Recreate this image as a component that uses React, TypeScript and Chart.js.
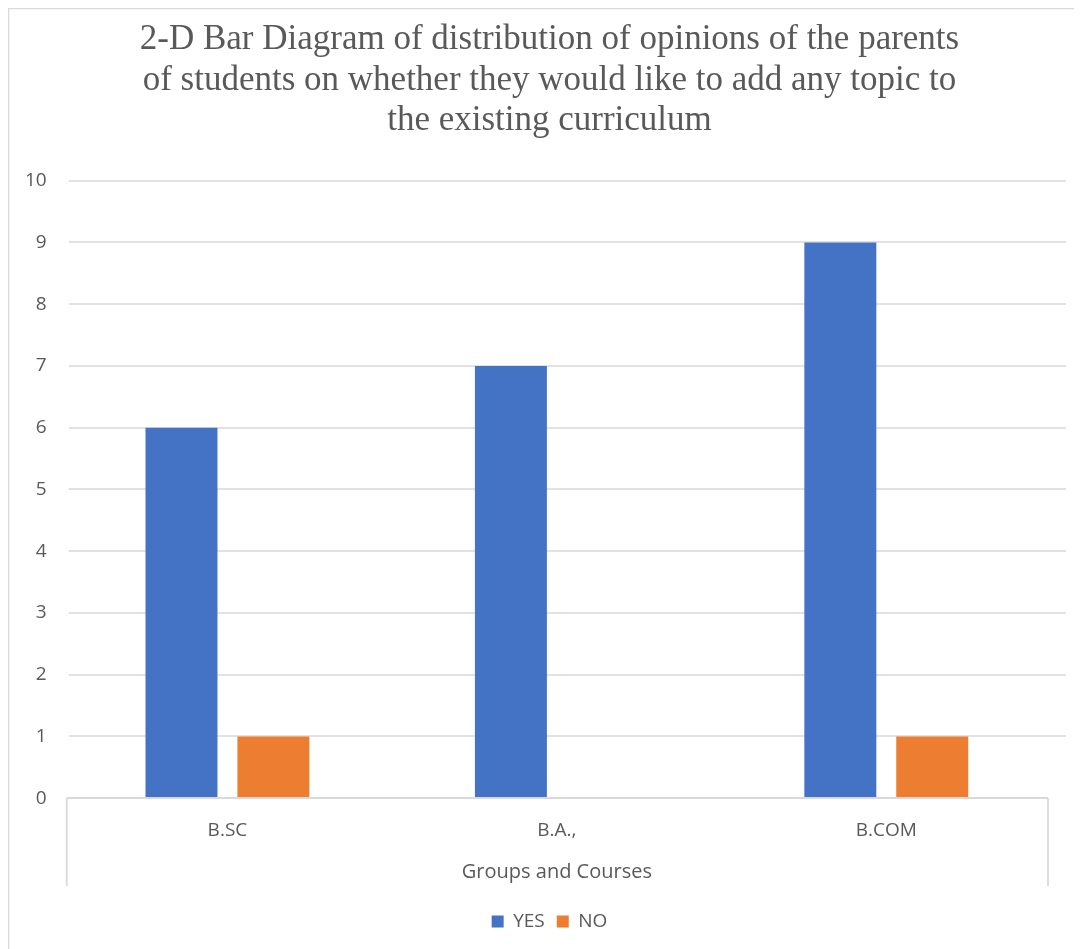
import React, { useEffect, useRef } from "react";
import { Chart, registerables } from "chart.js";

Chart.register(...registerables);

const categories = ["B.SC", "B.A.,", "B.COM"];
const yesValues = [6, 7, 9];
const noValues = [1, 0, 1];
const titleLines = [
  "2-D Bar Diagram of distribution of opinions of the parents",
  "of students on whether they would like to add any topic to",
  "the existing curriculum",
];
const xAxisTitle = "Groups and Courses";
const seriesNames = ["YES", "NO"];

const TEXT = "#595959";
const LINE = "#d9d9d9";
const SANS = "'Open Sans', 'Noto Sans', sans-serif";

export default function App() {
  const ref = useRef<HTMLCanvasElement | null>(null);

  useEffect(() => {
    if (!ref.current) return;
    const framePlugin = {
      id: "excelFrame",
      beforeDatasetsDraw(chart: any) {
        const ctx = chart.ctx;
        const area = chart.chartArea;
        const y = chart.scales.y;
        ctx.save();
        ctx.strokeStyle = LINE;
        ctx.lineWidth = 1.6;
        y.ticks.forEach((t: any) => {
          if (t.value === 0) return;
          const py = Math.round(y.getPixelForValue(t.value));
          ctx.beginPath();
          ctx.moveTo(area.left + 6, py);
          ctx.lineTo(area.right + 15, py);
          ctx.stroke();
        });
        ctx.restore();
      },
      afterDatasetsDraw(chart: any) {
        const ctx = chart.ctx;
        const area = chart.chartArea;
        const y = chart.scales.y;
        const base = Math.round(y.getPixelForValue(0));
        ctx.save();
        ctx.strokeStyle = LINE;
        ctx.lineWidth = 1.8;
        ctx.beginPath();
        ctx.moveTo(area.left + 4, base);
        ctx.lineTo(area.right - 3, base);
        ctx.moveTo(area.left + 4, base);
        ctx.lineTo(area.left + 4, base + 88);
        ctx.moveTo(area.right - 3, base);
        ctx.lineTo(area.right - 3, base + 88);
        ctx.stroke();
        ctx.lineWidth = 1.5;
        ctx.beginPath();
        ctx.moveTo(0.5, chart.height);
        ctx.lineTo(0.5, 0.5);
        ctx.lineTo(chart.width, 0.5);
        ctx.stroke();
        ctx.restore();
      },
    };

    const chart = new Chart(ref.current, {
      type: "bar",
      data: {
        labels: categories,
        datasets: [
          {
            label: seriesNames[0],
            data: yesValues,
            backgroundColor: "#4472C4",
            categoryPercentage: 0.558,
            barPercentage: 0.783,
          },
          {
            label: seriesNames[1],
            data: noValues,
            backgroundColor: "#ED7D31",
            categoryPercentage: 0.558,
            barPercentage: 0.783,
          },
        ],
      },
      options: {
        animation: false,
        responsive: false,
        maintainAspectRatio: false,
        layout: { padding: { left: 9, right: 0, top: 0, bottom: 8 } },
        plugins: {
          title: {
            display: true,
            text: titleLines,
            color: TEXT,
            font: { family: "'Liberation Serif', 'Times New Roman', serif", size: 35, weight: "normal", lineHeight: 1.15 },
            padding: { top: 12, bottom: 40 },
          },
          legend: {
            display: true,
            position: "bottom",
            labels: {
              color: TEXT,
              font: { family: SANS, size: 19 },
              boxWidth: 12,
              boxHeight: 12,
              padding: 12,
            },
          },
          tooltip: { enabled: false },
        },
        scales: {
          x: {
            grid: { display: false },
            border: { display: false },
            ticks: { color: TEXT, font: { family: SANS, size: 19 }, padding: 13 },
            title: {
              display: true,
              text: xAxisTitle,
              color: TEXT,
              font: { family: SANS, size: 20 },
              padding: { top: 5, bottom: 16 },
            },
          },
          y: {
            min: 0,
            max: 10,
            grid: { display: false },
            border: { display: false },
            ticks: { stepSize: 1, color: TEXT, font: { family: SANS, size: 19 }, padding: 8 },
          },
          yRight: {
            position: "right",
            display: true,
            grid: { display: false },
            border: { display: false },
            ticks: { display: false },
            afterFit(scale: any) {
              scale.width = 31;
            },
          },
        },
      },
      plugins: [framePlugin],
    });
    return () => chart.destroy();
  }, []);

  return (
    <div style={{ width: 1074, height: 941 }}>
      <canvas ref={ref} width={1074} height={941} style={{ display: "block", width: 1074, height: 941 }} />
    </div>
  );
}
